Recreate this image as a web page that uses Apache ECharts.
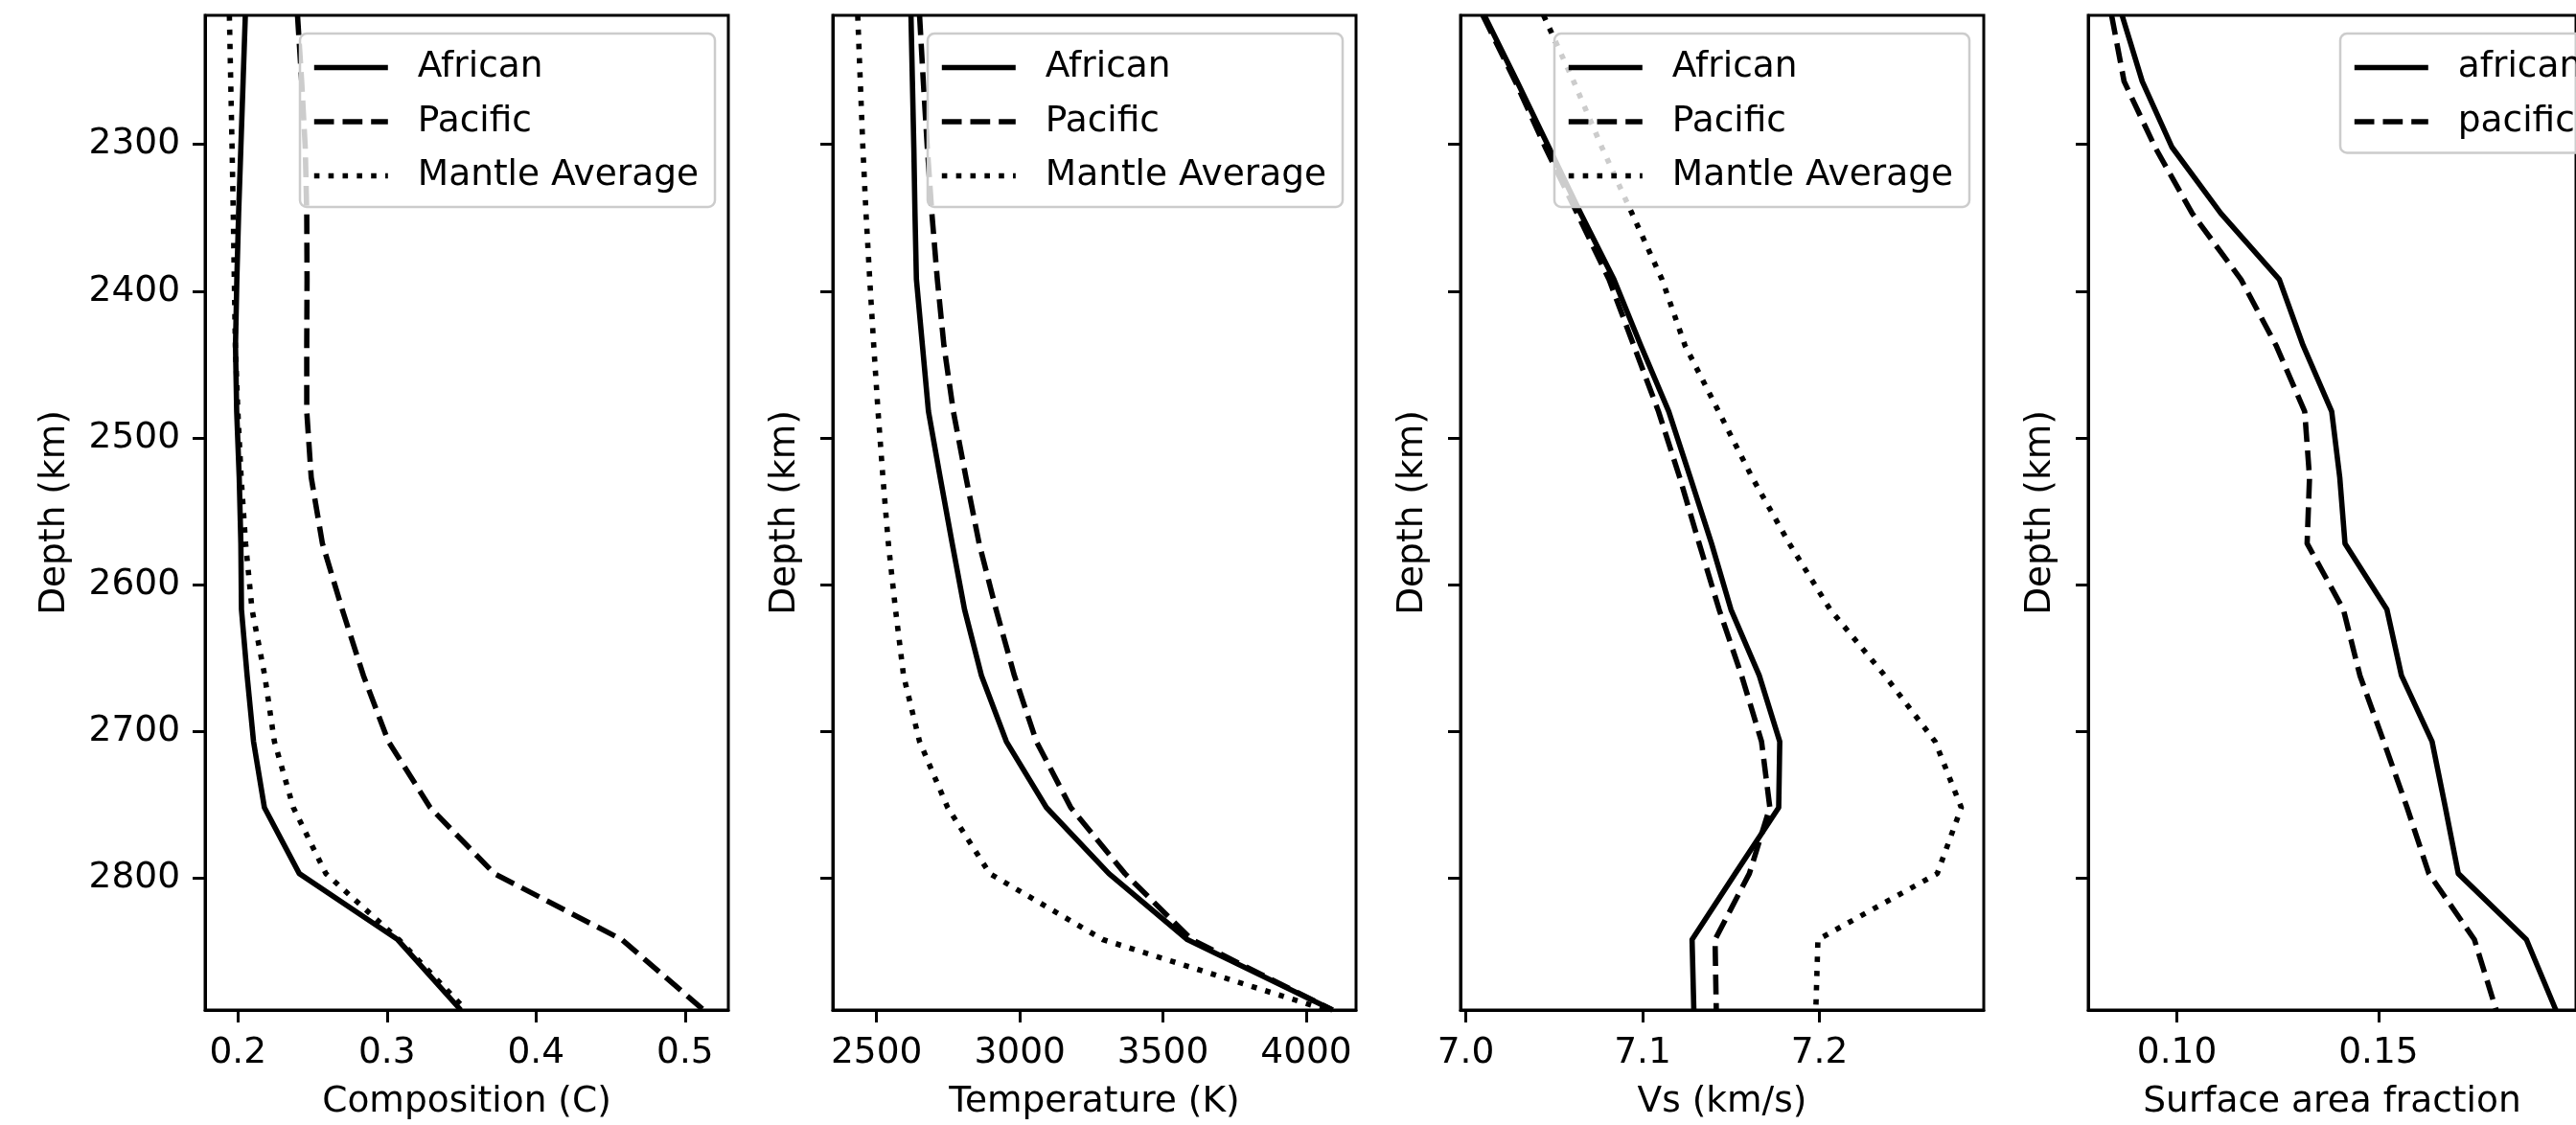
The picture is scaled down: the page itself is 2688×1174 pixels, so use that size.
<!DOCTYPE html>
<html>
<head>
<meta charset="utf-8">
<title>Depth profiles</title>
<script src="https://cdn.jsdelivr.net/npm/echarts@6/dist/echarts.min.js"></script>
<style>
  html, body { margin: 0; padding: 0; background: #fff; }
  #chart { width: 2688px; height: 1174px; }
</style>
</head>
<body>
<div id="chart"></div>
<script>
// sample depths (km), shared by every profile
const depth = [2212, 2257, 2302, 2347, 2392, 2437, 2482, 2527, 2572, 2617, 2662, 2707, 2752, 2797, 2842, 2890];

// composition (C)
const compAfrican = [0.2050, 0.2035, 0.2020, 0.2005, 0.1993, 0.1984, 0.1992, 0.2009, 0.2020, 0.2024, 0.2062, 0.2105, 0.2178, 0.2412, 0.3072, 0.3495];
const compPacific = [0.2400, 0.2428, 0.2452, 0.2462, 0.2464, 0.2462, 0.2462, 0.2492, 0.2567, 0.2700, 0.2842, 0.3010, 0.3290, 0.3720, 0.4575, 0.5125];
const compMantle = [0.1943, 0.1952, 0.1961, 0.1969, 0.1976, 0.1983, 0.2000, 0.2022, 0.2052, 0.2095, 0.2180, 0.2245, 0.2372, 0.2590, 0.3080, 0.3530];

// temperature (K)
const tempAfrican = [2620, 2625, 2630, 2634, 2639, 2660, 2681, 2722, 2764, 2807, 2866, 2953, 3093, 3311, 3585, 4092];
const tempPacific = [2650, 2663, 2677, 2693, 2712, 2735, 2768, 2812, 2858, 2917, 2981, 3058, 3178, 3367, 3600, 4092];
const tempMantle = [2434, 2443, 2452, 2463, 2476, 2490, 2505, 2522, 2541, 2566, 2594, 2650, 2748, 2895, 3290, 4072];

// shear velocity (km/s)
const vsAfrican = [7.0105, 7.029, 7.047, 7.065, 7.0838, 7.099, 7.1148, 7.127, 7.139, 7.150, 7.166, 7.1776, 7.177, 7.1524, 7.128, 7.129];
const vsPacific = [7.0096, 7.028, 7.045, 7.063, 7.081, 7.095, 7.109, 7.121, 7.132, 7.1433, 7.156, 7.1673, 7.172, 7.1604, 7.141, 7.1417];
const vsMantle = [7.044, 7.061, 7.077, 7.094, 7.111, 7.124, 7.143, 7.162, 7.183, 7.2061, 7.237, 7.2655, 7.2803, 7.2667, 7.1992, 7.198];

// surface area fraction
const saAfrican = [0.0864, 0.0914, 0.0988, 0.1109, 0.1254, 0.1313, 0.1384, 0.1404, 0.1417, 0.1521, 0.1557, 0.1633, 0.1666, 0.1698, 0.1867, 0.1940];
const saPacific = [0.0838, 0.0869, 0.0946, 0.1038, 0.1159, 0.1246, 0.1317, 0.1329, 0.1323, 0.1413, 0.1454, 0.1513, 0.1571, 0.1625, 0.1738, 0.1792];

// tick labels
const depthTicks = [2300, 2400, 2500, 2600, 2700, 2800];
const compTicks = [0.2, 0.3, 0.4, 0.5];
const tempTicks = [2500, 3000, 3500, 4000];
const vsTicks = [7.0, 7.1, 7.2];
const saTicks = [0.10, 0.15];

const FONT = 'DejaVu Sans';
const FS = 37.5;
const LW = 5.6;
const SPINE = 3;
const TICK = 13;
const DASHED = [20.7, 9];
const DOTTED = [5.6, 9.25];

const panels = [
  {
    left: 214, min: 0.178, max: 0.529, ticks: compTicks, digits: 1,
    xname: 'Composition (C)', legendLeft: 313, showDepth: true,
    lines: [
      { name: 'African', values: compAfrican, type: 'solid' },
      { name: 'Pacific', values: compPacific, type: DASHED },
      { name: 'Mantle Average', values: compMantle, type: DOTTED }
    ]
  },
  {
    left: 869, min: 2347, max: 4174, ticks: tempTicks, digits: 0,
    xname: 'Temperature (K)', legendLeft: 968,
    lines: [
      { name: 'African', values: tempAfrican, type: 'solid' },
      { name: 'Pacific', values: tempPacific, type: DASHED },
      { name: 'Mantle Average', values: tempMantle, type: DOTTED }
    ]
  },
  {
    left: 1524, min: 6.997, max: 7.293, ticks: vsTicks, digits: 1,
    xname: 'Vs (km/s)', legendLeft: 1622,
    lines: [
      { name: 'African', values: vsAfrican, type: 'solid' },
      { name: 'Pacific', values: vsPacific, type: DASHED },
      { name: 'Mantle Average', values: vsMantle, type: DOTTED }
    ]
  },
  {
    left: 2179, min: 0.078, max: 0.199, ticks: saTicks, digits: 2,
    xname: 'Surface area fraction', legendLeft: 2442,
    lines: [
      { name: 'african', values: saAfrican, type: 'solid' },
      { name: 'pacific', values: saPacific, type: DASHED }
    ]
  }
];

const grid = [], xAxis = [], yAxis = [], series = [], legend = [];

panels.forEach((p, i) => {
  grid.push({
    left: p.left, top: 16, width: 546, height: 1038,
    show: true, borderColor: '#000', borderWidth: SPINE, backgroundColor: 'transparent'
  });

  xAxis.push({
    type: 'value', gridIndex: i, min: p.min, max: p.max,
    name: p.xname, nameLocation: 'middle', nameGap: 77,
    nameTextStyle: { fontFamily: FONT, fontSize: FS, color: '#000' },
    axisLine: { show: true, onZero: false, lineStyle: { color: '#000', width: SPINE } },
    axisTick: { show: true, length: TICK, lineStyle: { color: '#000', width: SPINE }, customValues: p.ticks },
    axisLabel: {
      show: true, margin: 26, fontFamily: FONT, fontSize: FS, color: '#000',
      customValues: p.ticks,
      formatter: v => Number(v).toFixed(p.digits)
    },
    splitLine: { show: false }
  });

  yAxis.push({
    type: 'value', gridIndex: i, min: 2212, max: 2890, inverse: true,
    name: 'Depth (km)', nameLocation: 'middle', nameRotate: 90,
    nameGap: p.showDepth ? 138 : 31,
    nameTextStyle: { fontFamily: FONT, fontSize: FS, color: '#000' },
    axisLine: { show: true, onZero: false, lineStyle: { color: '#000', width: SPINE } },
    axisTick: { show: true, length: TICK, lineStyle: { color: '#000', width: SPINE }, customValues: depthTicks },
    axisLabel: {
      show: !!p.showDepth, margin: 26, fontFamily: FONT, fontSize: FS, color: '#000',
      customValues: depthTicks,
      formatter: v => String(v)
    },
    splitLine: { show: false }
  });

  p.lines.forEach(l => {
    series.push({
      name: l.name,
      type: 'line',
      xAxisIndex: i,
      yAxisIndex: i,
      data: depth.map((d, k) => [l.values[k], d]),
      symbol: 'none',
      animation: false,
      lineStyle: { color: '#000', width: LW, type: l.type, join: 'round' },
      itemStyle: { color: '#000' }
    });
  });

  // legend handles: plain lines, no marker
  legend.push({
    orient: 'vertical', left: p.legendLeft, top: 35,
    data: p.lines.map(l => ({
      name: l.name,
      lineStyle: { color: '#000', width: LW, type: l.type },
      itemStyle: { opacity: 0 }
    })),
    itemWidth: 77, itemHeight: 20, itemGap: 16.5,
    padding: [15.5, 17, 12.5, 12],
    backgroundColor: 'rgba(255,255,255,0.8)',
    borderColor: '#cccccc', borderWidth: 2.5, borderRadius: 7,
    selectedMode: false,
    itemStyle: { opacity: 0 },
    textStyle: { fontFamily: FONT, fontSize: FS, color: '#000', lineHeight: 40, padding: [0, 0, 0, 26] }
  });
});

const chart = echarts.init(document.getElementById('chart'));
chart.setOption({
  backgroundColor: '#fff',
  animation: false,
  grid, xAxis, yAxis, series, legend
});
</script>
</body>
</html>
